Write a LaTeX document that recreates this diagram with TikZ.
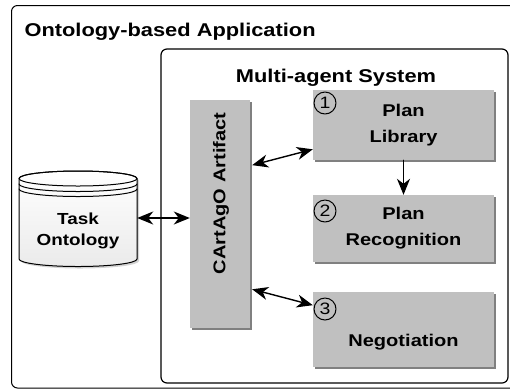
\documentclass[tikz,border=0pt]{standalone}
\usepackage{fontspec}
\setmainfont{Liberation Sans}[FakeStretch=1.18]
\usetikzlibrary{arrows.meta, positioning, shadows}
\definecolor{boxgray}{RGB}{192, 192, 192}
\definecolor{shadegray}{RGB}{128, 128, 128}

\begin{document}
\begin{tikzpicture}[x=1pt, y=-1pt, >={Stealth[length=16pt, width=13pt, inset=5pt]},
    line cap=round, line join=round,
    module/.style={fill=boxgray, inner sep=0pt, minimum width=181pt, align=center,
      drop shadow={shadow xshift=2pt, shadow yshift=-2pt, fill=shadegray, opacity=1},
      font=\bfseries\fontsize{17}{26}\selectfont},
    stepnum/.style={circle, draw, line width=1pt, minimum size=22pt, inner sep=0pt,
      font=\fontsize{16.5}{16.5}\selectfont},
    link/.style={<->, line width=1.4pt},
    title/.style={font=\bfseries\fontsize{18.5}{22}\selectfont}]

  \useasboundingbox (0,0) rectangle (510,389);
  \clip (0,0) rectangle (510,389);

  % Frames
  \draw[line width=1pt, rounded corners=6pt] (11.5,5.5) rectangle (520,388);
  \node[title, anchor=base west] (apptitle) at (21,36) {Ontology-based Application};
  \draw[line width=1.2pt, rounded corners=6pt] (161,49) rectangle (508,383);
  \node[title, anchor=base] (mastitle) at (336,82) {Multi-agent System};

  % Task ontology drum
  \filldraw[line width=1pt, top color=white, bottom color=black!8,
      drop shadow={shadow xshift=2pt, shadow yshift=-2pt, opacity=0.35}]
    (19,178.5) -- (19,259) arc[start angle=180, end angle=0, x radius=59, y radius=7.5]
    -- (137,178.5) arc[start angle=0, end angle=-180, x radius=59, y radius=7.5] -- cycle;
  \draw[line width=1pt] (78,178.5) ellipse[x radius=59, y radius=7.5];
  \draw[line width=1pt] (19,184) arc[start angle=180, end angle=0, x radius=59, y radius=7.5];
  \draw[line width=1pt] (19,189) arc[start angle=180, end angle=0, x radius=59, y radius=7.5];
  \node[minimum width=118pt, minimum height=96pt, inner sep=0pt] (db) at (78,218) {};
  \node[align=center, font=\bfseries\fontsize{16}{21}\selectfont] (dbtext) at (78,231) {Task\\Ontology};

  % Artifact and agent modules
  \node[module, minimum width=60pt, minimum height=228pt] (cartago) at (220,214) {};
  \node[rotate=90, font=\bfseries\fontsize{17}{20}\selectfont] (cartagotext) at (221,193.5) {CArtAgO Artifact};
  \node[module, minimum height=70pt] (plib) at (403.5,125) {Plan\\Library};
  \node[module, minimum height=67pt] (prec) at (403.5,228.5) {Plan\\Recognition};
  \node[module, minimum height=75pt, text height=37pt, text depth=4pt] (nego) at (403.5,329.5) {Negotiation};

  % Step numbers
  \node[stepnum] (num1) at (325,103) {1};
  \node[stepnum] (num2) at (325,211) {2};
  \node[stepnum] (num3) at (325,309) {3};

  % Connectors
  \draw[link] (db.east) -- (db -| cartago.west);
  \draw[link, shorten <=2pt] (cartago.58) -- (plib.195);
  \draw[link, shorten <=2pt] (cartago.-68) -- (nego.165);
  \draw[->, line width=1.4pt] (plib.south) -- (prec.north);

\end{tikzpicture}
\end{document}
